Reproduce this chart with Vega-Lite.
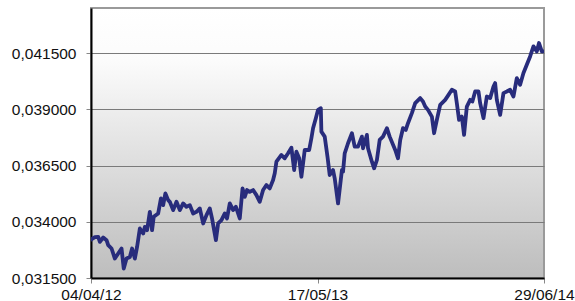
{
  "$schema": "https://vega.github.io/schema/vega-lite/v6.json",
  "width": 453,
  "height": 270,
  "autosize": "none",
  "padding": {"left": 91, "top": 8, "right": 31, "bottom": 23},
  "background": "white",
  "config": {
    "view": {
      "stroke": "#9a9a9a",
      "strokeWidth": 2,
      "fill": {
        "gradient": "linear",
        "x1": 0, "y1": 0, "x2": 0, "y2": 1,
        "stops": [
          {"offset": 0, "color": "#ffffff"},
          {"offset": 0.2, "color": "#fbfbfb"},
          {"offset": 1, "color": "#bdbdbd"}
        ]
      }
    },
    "axis": {
      "labelFont": "Liberation Sans",
      "labelFontSize": 15.5,
      "labelColor": "#111111",
      "title": null
    }
  },
  "data": {
    "values": [
      {"date": "2012-04-04", "value": 0.033211},
      {"date": "2012-04-11", "value": 0.033314},
      {"date": "2012-04-17", "value": 0.033327},
      {"date": "2012-04-20", "value": 0.033104},
      {"date": "2012-04-26", "value": 0.033300},
      {"date": "2012-05-02", "value": 0.033180},
      {"date": "2012-05-05", "value": 0.032957},
      {"date": "2012-05-11", "value": 0.032810},
      {"date": "2012-05-17", "value": 0.032364},
      {"date": "2012-05-23", "value": 0.032587},
      {"date": "2012-05-29", "value": 0.032810},
      {"date": "2012-06-02", "value": 0.031919},
      {"date": "2012-06-07", "value": 0.032364},
      {"date": "2012-06-13", "value": 0.032436},
      {"date": "2012-06-17", "value": 0.032810},
      {"date": "2012-06-22", "value": 0.032364},
      {"date": "2012-06-26", "value": 0.032881},
      {"date": "2012-07-01", "value": 0.033701},
      {"date": "2012-07-07", "value": 0.033478},
      {"date": "2012-07-10", "value": 0.033773},
      {"date": "2012-07-14", "value": 0.033626},
      {"date": "2012-07-19", "value": 0.034441},
      {"date": "2012-07-23", "value": 0.033626},
      {"date": "2012-07-26", "value": 0.034218},
      {"date": "2012-08-03", "value": 0.034370},
      {"date": "2012-08-08", "value": 0.035038},
      {"date": "2012-08-12", "value": 0.034739},
      {"date": "2012-08-16", "value": 0.035261},
      {"date": "2012-08-21", "value": 0.034962},
      {"date": "2012-08-24", "value": 0.034887},
      {"date": "2012-08-30", "value": 0.034517},
      {"date": "2012-09-05", "value": 0.034887},
      {"date": "2012-09-11", "value": 0.034517},
      {"date": "2012-09-17", "value": 0.034815},
      {"date": "2012-09-23", "value": 0.034664},
      {"date": "2012-09-29", "value": 0.034739},
      {"date": "2012-10-05", "value": 0.034370},
      {"date": "2012-10-11", "value": 0.034441},
      {"date": "2012-10-17", "value": 0.034592},
      {"date": "2012-10-23", "value": 0.033924},
      {"date": "2012-10-29", "value": 0.034294},
      {"date": "2012-11-04", "value": 0.034592},
      {"date": "2012-11-08", "value": 0.034147},
      {"date": "2012-11-15", "value": 0.033180},
      {"date": "2012-11-19", "value": 0.033924},
      {"date": "2012-11-25", "value": 0.034071},
      {"date": "2012-12-01", "value": 0.034370},
      {"date": "2012-12-05", "value": 0.034147},
      {"date": "2012-12-10", "value": 0.034815},
      {"date": "2012-12-16", "value": 0.034517},
      {"date": "2012-12-21", "value": 0.034664},
      {"date": "2012-12-28", "value": 0.034147},
      {"date": "2013-01-02", "value": 0.035484},
      {"date": "2013-01-06", "value": 0.035109},
      {"date": "2013-01-10", "value": 0.035408},
      {"date": "2013-01-15", "value": 0.035332},
      {"date": "2013-01-21", "value": 0.035408},
      {"date": "2013-01-27", "value": 0.035185},
      {"date": "2013-02-02", "value": 0.034887},
      {"date": "2013-02-08", "value": 0.035408},
      {"date": "2013-02-14", "value": 0.035631},
      {"date": "2013-02-20", "value": 0.035484},
      {"date": "2013-02-26", "value": 0.035853},
      {"date": "2013-03-01", "value": 0.036152},
      {"date": "2013-03-04", "value": 0.036669},
      {"date": "2013-03-13", "value": 0.036968},
      {"date": "2013-03-19", "value": 0.036820},
      {"date": "2013-03-25", "value": 0.037043},
      {"date": "2013-03-31", "value": 0.037293},
      {"date": "2013-04-05", "value": 0.036299},
      {"date": "2013-04-09", "value": 0.037115},
      {"date": "2013-04-14", "value": 0.036820},
      {"date": "2013-04-18", "value": 0.036001},
      {"date": "2013-04-24", "value": 0.037190},
      {"date": "2013-05-02", "value": 0.037190},
      {"date": "2013-05-06", "value": 0.037712},
      {"date": "2013-05-09", "value": 0.038157},
      {"date": "2013-05-14", "value": 0.038603},
      {"date": "2013-05-18", "value": 0.038973},
      {"date": "2013-05-23", "value": 0.039048},
      {"date": "2013-05-24", "value": 0.038006},
      {"date": "2013-05-30", "value": 0.037783},
      {"date": "2013-06-04", "value": 0.036892},
      {"date": "2013-06-08", "value": 0.036076},
      {"date": "2013-06-14", "value": 0.036299},
      {"date": "2013-06-17", "value": 0.035929},
      {"date": "2013-06-23", "value": 0.034815},
      {"date": "2013-06-30", "value": 0.036299},
      {"date": "2013-07-02", "value": 0.036223},
      {"date": "2013-07-05", "value": 0.037043},
      {"date": "2013-07-11", "value": 0.037489},
      {"date": "2013-07-18", "value": 0.037934},
      {"date": "2013-07-23", "value": 0.037337},
      {"date": "2013-07-29", "value": 0.037337},
      {"date": "2013-08-05", "value": 0.037783},
      {"date": "2013-08-07", "value": 0.037266},
      {"date": "2013-08-14", "value": 0.037859},
      {"date": "2013-08-16", "value": 0.037266},
      {"date": "2013-08-23", "value": 0.036669},
      {"date": "2013-08-27", "value": 0.036375},
      {"date": "2013-09-01", "value": 0.036745},
      {"date": "2013-09-06", "value": 0.037636},
      {"date": "2013-09-12", "value": 0.037783},
      {"date": "2013-09-19", "value": 0.038157},
      {"date": "2013-09-24", "value": 0.037783},
      {"date": "2013-10-04", "value": 0.037190},
      {"date": "2013-10-09", "value": 0.036820},
      {"date": "2013-10-13", "value": 0.037636},
      {"date": "2013-10-18", "value": 0.038157},
      {"date": "2013-10-23", "value": 0.038081},
      {"date": "2013-10-27", "value": 0.038380},
      {"date": "2013-11-03", "value": 0.038826},
      {"date": "2013-11-09", "value": 0.039271},
      {"date": "2013-11-18", "value": 0.039494},
      {"date": "2013-11-23", "value": 0.039343},
      {"date": "2013-11-27", "value": 0.039120},
      {"date": "2013-12-02", "value": 0.038973},
      {"date": "2013-12-09", "value": 0.038674},
      {"date": "2013-12-13", "value": 0.037934},
      {"date": "2013-12-18", "value": 0.038527},
      {"date": "2013-12-24", "value": 0.039196},
      {"date": "2014-01-02", "value": 0.039418},
      {"date": "2014-01-08", "value": 0.039641},
      {"date": "2014-01-14", "value": 0.039864},
      {"date": "2014-01-20", "value": 0.039788},
      {"date": "2014-01-23", "value": 0.039271},
      {"date": "2014-01-27", "value": 0.038527},
      {"date": "2014-02-01", "value": 0.038674},
      {"date": "2014-02-05", "value": 0.037859},
      {"date": "2014-02-10", "value": 0.039120},
      {"date": "2014-02-16", "value": 0.039418},
      {"date": "2014-02-20", "value": 0.039343},
      {"date": "2014-02-25", "value": 0.039788},
      {"date": "2014-03-03", "value": 0.039788},
      {"date": "2014-03-06", "value": 0.039271},
      {"date": "2014-03-12", "value": 0.038603},
      {"date": "2014-03-18", "value": 0.039565},
      {"date": "2014-03-24", "value": 0.039494},
      {"date": "2014-03-30", "value": 0.040011},
      {"date": "2014-04-02", "value": 0.040162},
      {"date": "2014-04-05", "value": 0.039418},
      {"date": "2014-04-11", "value": 0.038750},
      {"date": "2014-04-17", "value": 0.039717},
      {"date": "2014-04-23", "value": 0.039788},
      {"date": "2014-04-29", "value": 0.039864},
      {"date": "2014-05-05", "value": 0.039565},
      {"date": "2014-05-11", "value": 0.040385},
      {"date": "2014-05-17", "value": 0.040087},
      {"date": "2014-05-23", "value": 0.040608},
      {"date": "2014-05-29", "value": 0.040978},
      {"date": "2014-06-04", "value": 0.041348},
      {"date": "2014-06-10", "value": 0.041793},
      {"date": "2014-06-16", "value": 0.041571},
      {"date": "2014-06-20", "value": 0.041945},
      {"date": "2014-06-25", "value": 0.041571},
      {"date": "2014-06-29", "value": 0.041571}
    ]
  },
  "mark": {"type": "line", "color": "#282c7c", "strokeWidth": 3.8, "strokeJoin": "round", "strokeCap": "round", "clip": true},
  "encoding": {
    "x": {
      "field": "date",
      "type": "temporal",
      "scale": {
        "type": "utc",
        "domain": [
          {"year": 2012, "month": 4, "date": 4, "utc": true},
          {"year": 2014, "month": 6, "date": 29, "utc": true}
        ],
        "nice": false
      },
      "axis": {
        "values": [
          {"year": 2012, "month": 4, "date": 4, "utc": true},
          {"year": 2013, "month": 5, "date": 17, "utc": true},
          {"year": 2014, "month": 6, "date": 29, "utc": true}
        ],
        "labelExpr": "utcFormat(datum.value, '%d/%m/%y')",
        "grid": false,
        "domainColor": "#000000",
        "domainWidth": 2,
        "tickColor": "#888888",
        "tickSize": 5,
        "labelPadding": 4,
        "labelFlush": false,
        "labelOverlap": false
      }
    },
    "y": {
      "field": "value",
      "type": "quantitative",
      "scale": {"domain": [0.0315, 0.0435], "nice": false, "zero": false},
      "axis": {
        "values": [0.0315, 0.034, 0.0365, 0.039, 0.0415],
        "labelExpr": "replace(format(datum.value, '.6f'), '.', ',')",
        "grid": true,
        "gridColor": "#7a7a7a",
        "gridWidth": 1,
        "domainColor": "#000000",
        "domainWidth": 2,
        "tickColor": "#888888",
        "tickSize": 5,
        "labelPadding": 10
      }
    }
  }
}
